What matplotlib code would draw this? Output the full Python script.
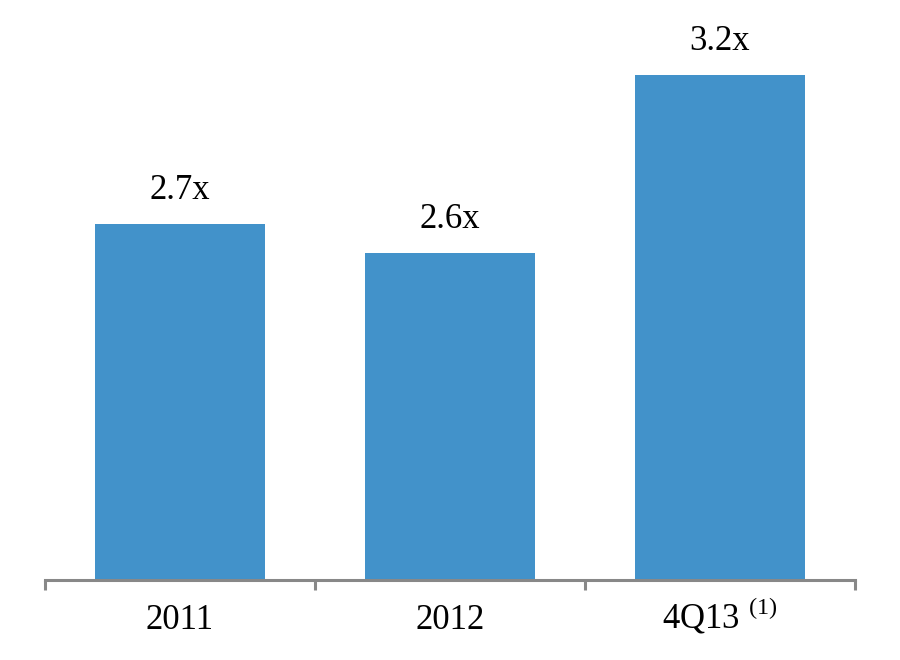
import matplotlib.pyplot as plt
from matplotlib.ticker import FixedLocator

plt.rcParams["font.family"] = ["Liberation Serif", "DejaVu Serif"]
plt.rcParams["mathtext.fontset"] = "custom"
plt.rcParams["mathtext.rm"] = "Liberation Serif"

categories = ["2011", "2012", "4Q13 $^{\\mathrm{(1)}}$"]
values = [2.7, 2.6, 3.2]
value_labels = ["2.7x", "2.6x", "3.2x"]

BAR_COLOR = "#4292CA"
AXIS_COLOR = "#888888"

fig = plt.figure(figsize=(9, 6.6), dpi=100)
ax = fig.add_axes([0.05, 0.121, 0.9, 0.855])

x = range(len(categories))
bars = ax.bar(x, values, width=0.63, color=BAR_COLOR, bottom=0)

ax.set_ylim(1.5, 3.4)
ax.set_xlim(-0.5, 2.5)

for b, lab in zip(bars, value_labels):
    ax.annotate(lab, (b.get_x() + b.get_width() / 2, b.get_height()),
                xytext=(0, 18), textcoords="offset points",
                ha="center", va="baseline", fontsize=25)

ax.set_xticks(list(x))
ax.set_xticklabels(categories, fontsize=25)
for lbl in ax.get_xticklabels():
    lbl.set_verticalalignment("baseline")
ax.tick_params(axis="x", which="major", length=0, pad=35)
ax.xaxis.set_minor_locator(FixedLocator([-0.5, 0.5, 1.5, 2.5]))
ax.tick_params(axis="x", which="minor", length=7.5, width=2.2,
               color=AXIS_COLOR, direction="out")

ax.set_yticks([])
for side in ["top", "right", "left"]:
    ax.spines[side].set_visible(False)
ax.spines["bottom"].set_color(AXIS_COLOR)
ax.spines["bottom"].set_linewidth(2.2)

plt.savefig("out.png", dpi=100)
